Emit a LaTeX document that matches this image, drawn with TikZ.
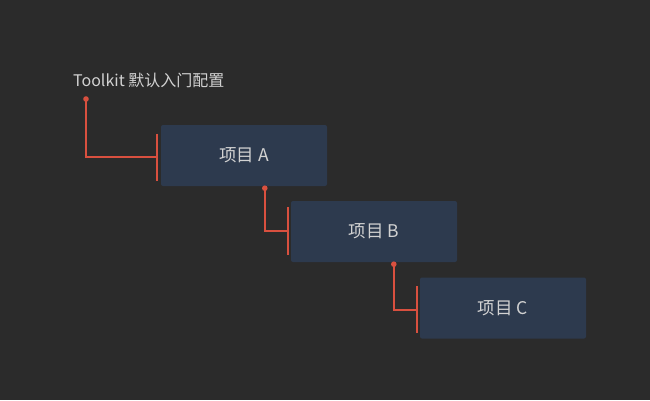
\documentclass[tikz,border=0pt]{standalone}
\usepackage{fontspec}
\setmainfont{Noto Sans CJK SC}
\usetikzlibrary{calc}
\definecolor{bgc}{HTML}{2B2B2B}
\definecolor{boxc}{HTML}{2D3A4E}
\definecolor{linec}{HTML}{D9503F}
\definecolor{txtc}{HTML}{D2D2D2}
\tikzset{
  item/.style={fill=boxc, rounded corners=2pt, minimum width=166pt, minimum height=61pt, inner sep=0pt,
    text=txtc, font=\fontsize{17.5pt}{20pt}\selectfont},
  rootlbl/.style={text=txtc, font=\fontsize{16pt}{19pt}\selectfont, inner sep=0pt, anchor=west},
  conn/.style={draw=linec, line width=2pt},
  bar/.style={draw=linec, line width=2pt},
  dot/.style={fill=linec},
}
\begin{document}
\begin{tikzpicture}[x=1pt,y=-1pt]
\fill[bgc] (0,0) rectangle (650,400);
\useasboundingbox (0,0) rectangle (650,400);
\node[rootlbl] (root) at (73,80) {Toolkit 默认入门配置};
\node[item] (a) at (244,155.5) {项目 A};
\node[item] (b) at (374,231.5) {项目 B};
\node[item] (c) at (503,308) {项目 C};
\coordinate (d0) at (86,99);
\coordinate (d1) at ($(a.south west)+(104,2)$);
\coordinate (d2) at ($(b.south west)+(103,2)$);
\coordinate (ba) at ($(a.west)+(-4,1.5)$);
\coordinate (bb) at ($(b.west)+(-3,-0.5)$);
\coordinate (bc) at ($(c.west)+(-3,1.5)$);
\draw[conn] (d0) |- (ba);
\draw[conn] (d1) |- (bb);
\draw[conn] (d2) |- (bc);
\draw[bar] ($(ba)+(0,-23.5)$) -- ($(ba)+(0,23.5)$);
\draw[bar] ($(bb)+(0,-24)$) -- ($(bb)+(0,24)$);
\draw[bar] ($(bc)+(0,-23.5)$) -- ($(bc)+(0,23.5)$);
\fill[dot] (d0) circle (2.8);
\fill[dot] (d1) circle (2.8);
\fill[dot] (d2) circle (2.8);
\end{tikzpicture}
\end{document}
